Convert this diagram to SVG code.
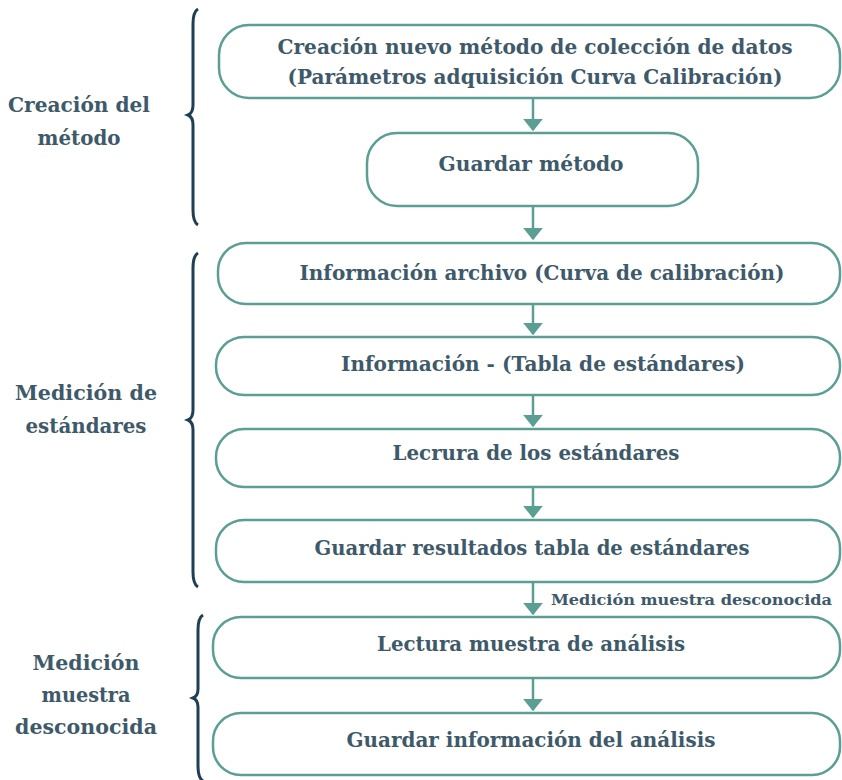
<svg xmlns="http://www.w3.org/2000/svg" width="842" height="780" viewBox="0 0 842 780">
<defs>
<style>
.box{fill:#fff;stroke:#5b9e93;stroke-width:2.5}
.t{font-family:"DejaVu Serif","Liberation Serif",serif;font-weight:bold;font-size:21px;fill:#3e5a6a;text-anchor:middle}
.lab{font-family:"DejaVu Serif","Liberation Serif",serif;font-weight:bold;font-size:21px;fill:#3e5a6a;text-anchor:middle}
.small{font-family:"DejaVu Serif","Liberation Serif",serif;font-weight:bold;font-size:15px;fill:#3e5a6a}
.ar{stroke:#5b9e93;stroke-width:2.5;fill:none}
.brace{fill:none;stroke:#1f3f55;stroke-width:3}
</style>
<marker id="ah" markerWidth="5" markerHeight="8" refX="4.5" refY="4" orient="auto" markerUnits="strokeWidth"><path d="M0,0 L5,4 L0,8 Z" fill="#5b9e93"/></marker>
</defs>
<rect width="842" height="780" fill="#fff"/>
<g id="braces">
<path class="brace" d="M198,9 Q193,12 193,24 L193,105 Q193,113 188,115 Q193,117 193,125 L193,210 Q193,222 198,225"/>
<path class="brace" d="M198,253 Q193,256 193,268 L193,410 Q193,418 188,420 Q193,422 193,430 L193,572 Q193,584 198,587"/>
<path class="brace" d="M203,615 Q198,618 198,630 L198,689 Q198,696 193,698 Q198,700 198,707 L198,766 Q198,778 203,781"/>
</g>
<g id="labels">
<text class="lab" x="79" y="112" textLength="142" lengthAdjust="spacingAndGlyphs">Creación del</text>
<text class="lab" x="79" y="145" textLength="83" lengthAdjust="spacingAndGlyphs">método</text>
<text class="lab" x="86" y="400" textLength="142" lengthAdjust="spacingAndGlyphs">Medición de</text>
<text class="lab" x="86" y="433" textLength="121" lengthAdjust="spacingAndGlyphs">estándares</text>
<text class="lab" x="86" y="670" textLength="107" lengthAdjust="spacingAndGlyphs">Medición</text>
<text class="lab" x="86" y="702" textLength="89" lengthAdjust="spacingAndGlyphs">muestra</text>
<text class="lab" x="86" y="734" textLength="142" lengthAdjust="spacingAndGlyphs">desconocida</text>
</g>
<g id="connectors">
<line class="ar" x1="533" y1="99" x2="533" y2="130" marker-end="url(#ah)"/>
<line class="ar" x1="533" y1="207" x2="533" y2="239" marker-end="url(#ah)"/>
<line class="ar" x1="533" y1="305" x2="533" y2="334" marker-end="url(#ah)"/>
<line class="ar" x1="533" y1="396" x2="533" y2="426" marker-end="url(#ah)"/>
<line class="ar" x1="533" y1="488" x2="533" y2="517" marker-end="url(#ah)"/>
<line class="ar" x1="533" y1="583" x2="533" y2="614" marker-end="url(#ah)"/>
<line class="ar" x1="533" y1="679" x2="533" y2="710" marker-end="url(#ah)"/>
<text class="small" x="551" y="605" textLength="281" lengthAdjust="spacingAndGlyphs">Medición muestra desconocida</text>
</g>
<g id="n1"><rect class="box" x="219" y="25" width="621" height="73" rx="30"/>
<text class="t" x="535" y="54" textLength="515" lengthAdjust="spacingAndGlyphs">Creación nuevo método de colección de datos</text>
<text class="t" x="535" y="84" textLength="495" lengthAdjust="spacingAndGlyphs">(Parámetros adquisición Curva Calibración)</text></g>
<g id="n2"><rect class="box" x="367" y="133" width="331" height="73" rx="30"/>
<text class="t" x="531" y="171" textLength="185" lengthAdjust="spacingAndGlyphs">Guardar método</text></g>
<g id="n3"><rect class="box" x="218" y="243" width="622" height="61" rx="28"/>
<text class="t" x="542" y="280" textLength="485" lengthAdjust="spacingAndGlyphs">Información archivo (Curva de calibración)</text></g>
<g id="n4"><rect class="box" x="216" y="337" width="624" height="58" rx="28"/>
<text class="t" x="543" y="371" textLength="404" lengthAdjust="spacingAndGlyphs">Información - (Tabla de estándares)</text></g>
<g id="n5"><rect class="box" x="216" y="429" width="624" height="58" rx="28"/>
<text class="t" x="536" y="460" textLength="287" lengthAdjust="spacingAndGlyphs">Lecrura de los estándares</text></g>
<g id="n6"><rect class="box" x="216" y="520" width="624" height="62" rx="28"/>
<text class="t" x="532" y="555" textLength="435" lengthAdjust="spacingAndGlyphs">Guardar resultados tabla de estándares</text></g>
<g id="n7"><rect class="box" x="213" y="617" width="627" height="61" rx="28"/>
<text class="t" x="531" y="651" textLength="308" lengthAdjust="spacingAndGlyphs">Lectura muestra de análisis</text></g>
<g id="n8"><rect class="box" x="213" y="713" width="627" height="62" rx="28"/>
<text class="t" x="531" y="747" textLength="369" lengthAdjust="spacingAndGlyphs">Guardar información del análisis</text></g>
</svg>
